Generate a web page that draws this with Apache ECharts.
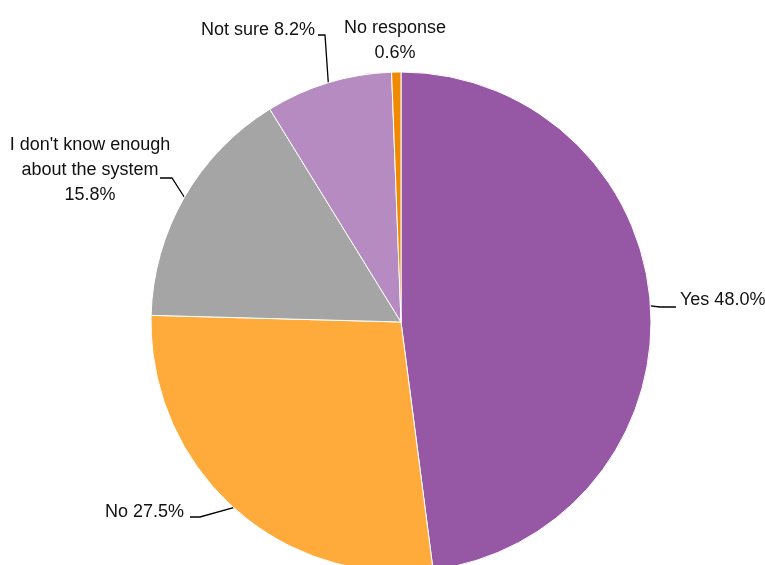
<!DOCTYPE html>
<html>
<head>
<meta charset="utf-8">
<script src="https://cdn.jsdelivr.net/npm/echarts@6/dist/echarts.min.js"></script>
<style>
  html, body { margin: 0; padding: 0; background: #fff; }
  #chart { width: 765px; height: 565px; }
</style>
</head>
<body>
<div id="chart"></div>
<script>
// Survey answers, clockwise from 12 o'clock
const categories = ['Yes', 'No', "I don't know enough about the system", 'Not sure', 'No response'];
const labelTexts = ['Yes 48.0%', 'No 27.5%', "I don't know enough\nabout the system\n15.8%", 'Not sure 8.2%', 'No response\n0.6%'];
const values = [48.0, 27.5, 15.8, 8.2, 0.6];
const colors = ['#9657A5', '#FFAB3B', '#A5A5A5', '#B58BC1', '#F08A00'];

// label placement and leader-line elbow/end points
const labelPlace = [
  { x: 680, y: 300, align: 'left',   elbow: [660, 307], end: [676, 307] },
  { x: 184, y: 512, align: 'right',  elbow: [200, 517], end: [190, 517] },
  { x: 90,  y: 170, align: 'center', elbow: [172, 178], end: [160, 178] },
  { x: 315, y: 30,  align: 'right',  elbow: [325, 35],  end: [318, 35] },
  { x: 395, y: 41,  align: 'center', elbow: null,       end: null }
];

const chart = echarts.init(document.getElementById('chart'), null, { renderer: 'canvas' });

chart.setOption({
  animation: false,
  backgroundColor: '#ffffff',
  series: [{
    type: 'pie',
    center: [401, 322],
    radius: [0, 250],
    startAngle: 90,
    clockwise: true,
    avoidLabelOverlap: false,
    itemStyle: { borderColor: '#ffffff', borderWidth: 1 },
    label: {
      show: true,
      color: '#111',
      fontFamily: '"Liberation Sans Narrow", "Arial Narrow", "Liberation Sans", sans-serif',
      fontSize: 18,
      lineHeight: 25,
      formatter: p => labelTexts[p.dataIndex]
    },
    labelLine: {
      show: true,
      length: 8,
      length2: 12,
      lineStyle: { color: '#000', width: 1.3 }
    },
    labelLayout: function (params) {
      const p = labelPlace[params.dataIndex];
      const out = { x: p.x, y: p.y, align: p.align, verticalAlign: 'middle' };
      if (p.elbow && params.labelLinePoints) {
        out.labelLinePoints = [params.labelLinePoints[0], p.elbow, p.end];
      }
      return out;
    },
    data: categories.map((name, i) => ({
      name: name,
      value: values[i],
      itemStyle: { color: colors[i] },
      labelLine: { show: i !== 4 }
    }))
  }]
});
</script>
</body>
</html>
